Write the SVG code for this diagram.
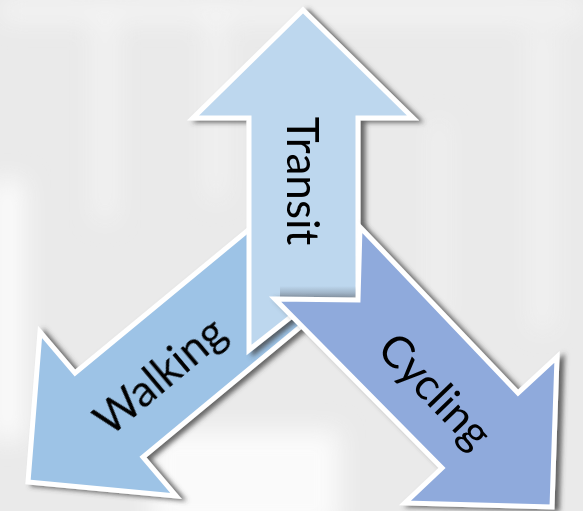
<svg xmlns="http://www.w3.org/2000/svg" width="583" height="511" viewBox="0 0 583 511">
<defs>
<filter id="shadow" x="-20%" y="-20%" width="140%" height="140%">
<feGaussianBlur in="SourceAlpha" stdDeviation="2.5" result="b"/>
<feOffset in="b" dx="5" dy="2" result="o"/>
<feFlood flood-color="#444" flood-opacity="0.8"/>
<feComposite in2="o" operator="in" result="s"/>
<feMerge><feMergeNode in="s"/><feMergeNode in="SourceGraphic"/></feMerge>
</filter>
<filter id="soft" x="-50%" y="-50%" width="200%" height="200%">
<feGaussianBlur stdDeviation="12"/>
</filter>
<linearGradient id="band" x1="0" y1="0" x2="0" y2="1">
<stop offset="0" stop-color="#7d8a99" stop-opacity="0"/>
<stop offset="1" stop-color="#7d8a99" stop-opacity="0.8"/>
</linearGradient>
</defs>
<style>
.arrow{stroke:#fff;stroke-width:5;stroke-linejoin:miter}
.lbl{font-family:Lato,"Open Sans","Liberation Sans",sans-serif;font-size:44px;fill:#000}
</style>
<g id="background">
<rect width="583" height="511" fill="#eaeaea"/>
<g filter="url(#soft)" fill="#fafafa">
<rect x="-10" y="180" width="35" height="260"/>
<rect x="150" y="430" width="190" height="100"/>
<rect x="95" y="20" width="20" height="200" opacity="0.6"/>
<rect x="205" y="10" width="22" height="190" opacity="0.5"/>
<rect x="530" y="30" width="25" height="300" opacity="0.5"/>
<rect x="430" y="120" width="18" height="200" opacity="0.4"/>
<rect x="0" y="0" width="583" height="22" opacity="0.6"/>
</g>
</g>
<g id="walking" filter="url(#shadow)">
<polygon class="arrow" fill="#9dc3e6" points="28,482 40,332 75,373 270,212 312,319 300,327 143,457 176,496"/>
</g>
<g id="transit" filter="url(#shadow)">
<polygon class="arrow" fill="#bdd7ee" points="303,10 413,118 358,118 358,298 292,316 249,350 249,118 193,118"/>
</g>
<g id="cycling">
<rect x="280" y="286" width="77" height="12" fill="url(#band)"/>
<polygon class="arrow" fill="#8faadc" filter="url(#shadow)" points="275,299 358,300 360,227 518,393 557,357 552,507 405,503 442,468"/>
</g>
<g id="labels">
<text class="lbl" text-anchor="middle" transform="translate(287,181) rotate(90)">Transit</text>
<text class="lbl" text-anchor="middle" transform="translate(160,376) rotate(-40) translate(0,15)">Walking</text>
<text class="lbl" text-anchor="middle" transform="translate(435,391) rotate(46) translate(0,15)">Cycling</text>
</g>
<g id="connectors"/>
</svg>
